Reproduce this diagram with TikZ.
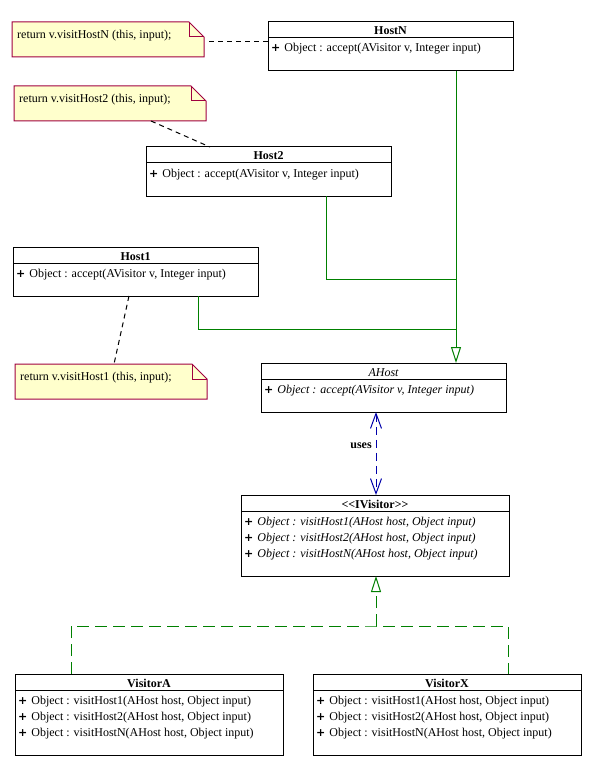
\documentclass[tikz,border=0pt]{standalone}
\usepackage{fontspec}
\setmainfont{Liberation Serif}
\newfontfamily\plusfont{DejaVu Sans}
\usetikzlibrary{arrows.meta}
\definecolor{notefill}{RGB}{255,255,204}
\definecolor{noteline}{RGB}{160,0,64}
\definecolor{umlgreen}{RGB}{0,128,0}
\definecolor{umlblue}{RGB}{0,0,170}
\tikzset{
  classbox/.style={draw=black, line width=1pt, fill=white, inner sep=0pt, outer sep=0pt},
  classline/.style={draw=black, line width=1pt},
  titletext/.style={inner sep=0pt, font=\fontsize{12}{14}\selectfont\bfseries},
  optext/.style={inner sep=0pt},
  notebox/.style={inner sep=0pt, outer sep=0pt, minimum width=192pt, minimum height=35pt},
  notedraw/.style={draw=noteline, fill=notefill, line width=1pt},
  notetext/.style={inner sep=0pt},
  notelink/.style={draw=black, line width=1pt, dash pattern=on 5pt off 4pt},
  genline/.style={draw=umlgreen, line width=1pt},
  realline/.style={draw=umlgreen, line width=1pt, dash pattern=on 12pt off 6pt},
  useline/.style={draw=umlblue, line width=1pt, dash pattern=on 8pt off 5pt},
  gentip/.tip={Triangle[open, length=16pt, width=10pt]},
  barbtip/.tip={Straight Barb[length=15pt, width=11pt]},
  uselabel/.style={inner sep=0pt, font=\fontsize{12}{14}\selectfont\bfseries}
}
\newcommand{\UMLClass}[6]{%
  \node[classbox, minimum width=#4pt, minimum height=#5pt, anchor=north west] (#1) at (#2,#3) {};
  \draw[classline] ([yshift=-16pt]#1.north west) -- ([yshift=-16pt]#1.north east);
  \node[titletext, anchor=base] (#1-t) at ([yshift=-13pt]#1.north) {#6};
}
\newcommand{\UMLOp}[3]{%
  \node[optext, anchor=base west] (#1-op#2) at ([xshift=3pt,yshift={-(30+16*#2)*1pt}]#1.north west) {{\plusfont\bfseries\fontsize{11}{13}\selectfont +}\hspace{4pt}#3};
}
\newcommand{\UMLNote}[4]{%
  \node[notebox, anchor=north west] (#1) at (#2,#3) {};
  \draw[notedraw] (#1.south west) -- (#1.north west) -- ([xshift=-15pt]#1.north east)
     -- ([yshift=-15pt]#1.north east) -- (#1.south east) -- cycle;
  \draw[notedraw, fill=none] ([xshift=-15pt]#1.north east) |- ([yshift=-15pt]#1.north east);
  \node[notetext, anchor=base west] (#1-t) at ([xshift=5pt,yshift=-16.5pt]#1.north west) {#4};
}
\begin{document}
\begin{tikzpicture}[x=1pt,y=-1pt,font=\fontsize{12}{14}\selectfont]
\useasboundingbox[fill=white] (0,0) rectangle (594,778);

% notes
\UMLNote{noteN}{12}{22}{return v.visitHostN (this, input);}
\UMLNote{noteTwo}{14}{86}{return v.visitHost2 (this, input);}
\UMLNote{noteOne}{15}{364}{return v.visitHost1 (this, input);}

% classes
\UMLClass{hostN}{268}{22}{245}{49}{HostN}
\UMLOp{hostN}{0}{Object : accept(AVisitor v, Integer input)}
\UMLClass{hostTwo}{146}{147}{245}{49}{Host2}
\UMLOp{hostTwo}{0}{Object : accept(AVisitor v, Integer input)}
\UMLClass{hostOne}{13}{247}{245}{49}{Host1}
\UMLOp{hostOne}{0}{Object : accept(AVisitor v, Integer input)}
\UMLClass{aHost}{261}{363}{245}{49}{\mdseries\itshape AHost}
\UMLOp{aHost}{0}{\itshape Object : accept(AVisitor v, Integer input)}
\UMLClass{iVisitor}{241}{495}{268}{81}{<{}<IVisitor>{}>}
\UMLOp{iVisitor}{0}{\itshape Object : visitHost1(AHost host, Object input)}
\UMLOp{iVisitor}{1}{\itshape Object : visitHost2(AHost host, Object input)}
\UMLOp{iVisitor}{2}{\itshape Object : visitHostN(AHost host, Object input)}
\UMLClass{visitorA}{15}{674}{268}{81}{VisitorA}
\UMLOp{visitorA}{0}{Object : visitHost1(AHost host, Object input)}
\UMLOp{visitorA}{1}{Object : visitHost2(AHost host, Object input)}
\UMLOp{visitorA}{2}{Object : visitHostN(AHost host, Object input)}
\UMLClass{visitorX}{313}{674}{268}{81}{VisitorX}
\UMLOp{visitorX}{0}{Object : visitHost1(AHost host, Object input)}
\UMLOp{visitorX}{1}{Object : visitHost2(AHost host, Object input)}
\UMLOp{visitorX}{2}{Object : visitHostN(AHost host, Object input)}

% note links
\draw[notelink] ([xshift=5pt,yshift=-2.5pt]noteN.east) -- ([yshift=4.5pt]hostN.west);
\draw[notelink] ([xshift=41pt]noteTwo.south) -- ([xshift=-58.5pt]hostTwo.north);
\draw[notelink] ([xshift=-6.5pt]hostOne.south) -- ([xshift=3pt]noteOne.north);

% generalization
\coordinate (jTwo) at (456,279);
\coordinate (jOne) at (456,329);
\draw[genline, -{gentip}] ([xshift=65.5pt]hostN.south) -- ([xshift=72.5pt]aHost.north);
\draw[genline] ([xshift=57.5pt]hostTwo.south) |- (jTwo);
\draw[genline] ([xshift=62.5pt]hostOne.south) |- (jOne);

% uses
\draw[useline, {barbtip}-{barbtip}] ([xshift=-7.5pt]aHost.south) -- ([xshift=1pt]iVisitor.north);
\node[uselabel] (usesLbl) at (361,446) {uses};

% realization
\coordinate (jR) at (376,626);
\draw[realline] ([xshift=-78pt]visitorA.north) |- (jR) -| ([xshift=61pt]visitorX.north);
\draw[realline, -{gentip}] (jR) -- ([xshift=1pt]iVisitor.south);
\end{tikzpicture}
\end{document}
